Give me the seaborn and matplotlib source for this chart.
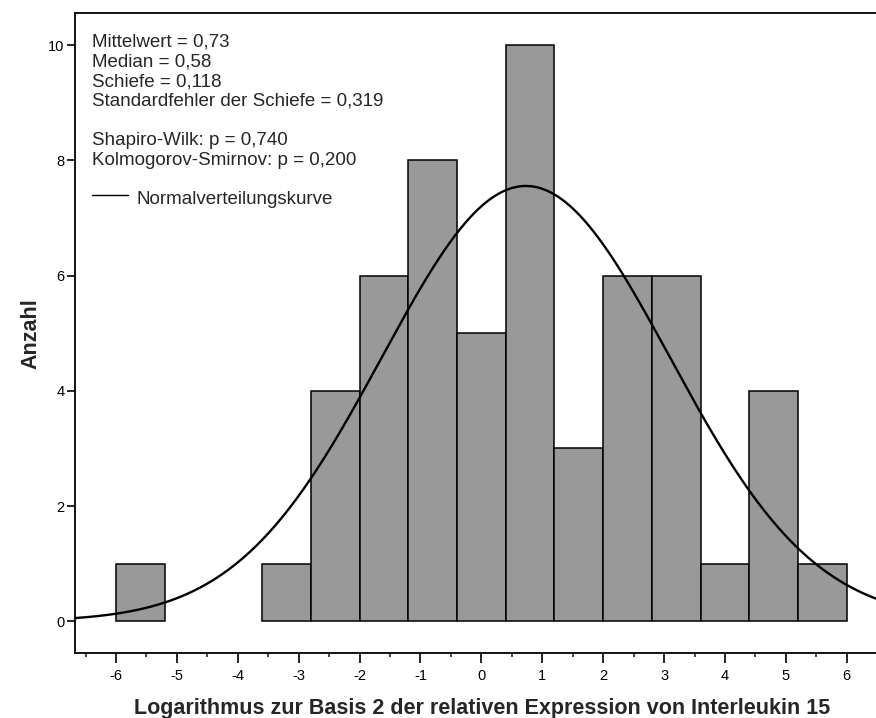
import numpy as np
import pandas as pd
import matplotlib
matplotlib.use("Agg")
import matplotlib.pyplot as plt
import seaborn as sns

# Histogram bins (width 0.8) of log2 relative IL-15 expression and their counts
bin_edges = [-6.0, -5.2, -4.4, -3.6, -2.8, -2.0, -1.2, -0.4, 0.4, 1.2, 2.0, 2.8, 3.6, 4.4, 5.2, 6.0]
counts = [1, 0, 0, 1, 4, 6, 8, 5, 10, 3, 6, 6, 1, 4, 1]

# Descriptive statistics
mean_value = 0.73
sd_value = 2.365
stats_lines = [
    "Mittelwert = 0,73",
    "Median = 0,58",
    "Schiefe = 0,118",
    "Standardfehler der Schiefe = 0,319",
    "",
    "Shapiro-Wilk: p = 0,740",
    "Kolmogorov-Smirnov: p = 0,200",
]
curve_label = "Normalverteilungskurve"
x_label = "Logarithmus zur Basis 2 der relativen Expression von Interleukin 15"
y_label = "Anzahl"
x_ticks = [-6, -5, -4, -3, -2, -1, 0, 1, 2, 3, 4, 5, 6]
y_ticks = [0, 2, 4, 6, 8, 10]

sns.set_style("ticks")
plt.rcParams["font.family"] = ["Liberation Sans", "DejaVu Sans"]

W, H = 876, 718
fig = plt.figure(figsize=(W / 100, H / 100), dpi=100)

# axes geometry in pixels
x_lo, x_hi = -6.673, 6.62
y_lo, y_hi = -0.55, 10.56
left_px, top_px, bottom_px = 75, 13, 653
px_per_x = 60.9
width_px = (x_hi - x_lo) * px_per_x
ax = fig.add_axes([left_px / W, 1 - bottom_px / H, width_px / W, (bottom_px - top_px) / H])

centers = [(a + b) / 2 for a, b in zip(bin_edges[:-1], bin_edges[1:])]
df = pd.DataFrame({"wert": centers, "anzahl": counts})
sns.histplot(data=df, x="wert", weights="anzahl", bins=bin_edges, color="#999999",
             edgecolor="black", linewidth=1.1, alpha=1.0, ax=ax, zorder=2)
for p in ax.patches:
    if p.get_height() == 0:
        p.set_visible(False)

# fitted normal curve scaled to counts
n_total = sum(counts)
bw = bin_edges[1] - bin_edges[0]
xs = np.linspace(x_lo, x_hi, 600)
ys = n_total * bw / (sd_value * np.sqrt(2 * np.pi)) * np.exp(-0.5 * ((xs - mean_value) / sd_value) ** 2)
sns.lineplot(x=xs, y=ys, color="black", linewidth=1.7, ax=ax, zorder=3)

ax.set_xlim(x_lo, x_hi)
ax.set_ylim(y_lo, y_hi)
ax.set_xticks(x_ticks)
ax.set_xticklabels([str(t) for t in x_ticks])
ax.set_xticks(np.arange(-6.5, 6.6, 1.0), minor=True)
ax.set_yticks(y_ticks)
ax.set_yticklabels([str(t) for t in y_ticks])

for side in ["left", "top", "bottom"]:
    ax.spines[side].set_linewidth(1.3)
    ax.spines[side].set_color("black")
ax.spines["right"].set_visible(False)

ax.tick_params(axis="x", which="major", length=7.2, width=1.2, pad=4.3, labelsize=10.5, colors="black")
ax.tick_params(axis="x", which="minor", length=2.9, width=1.2)
ax.tick_params(axis="y", which="major", length=6, width=1.2, pad=1.5, labelsize=10.5, colors="black")

ax.set_xlabel("")
ax.set_ylabel("")
fig.text(482 / W, 1 - 714 / H, x_label, ha="center", va="baseline", fontsize=15.5, fontweight="bold")
fig.text(31 / W, 1 - 334 / H, y_label, ha="center", va="center", rotation=90, fontsize=15.5, fontweight="bold")

# statistics block
line_px = 19.7
base0 = 46.7
for i, line in enumerate(stats_lines):
    if line:
        fig.text(92 / W, 1 - (base0 + i * line_px) / H, line, ha="left", va="baseline", fontsize=13.5)

# curve legend entry
ly = 195
fig.add_artist(plt.Line2D([92 / W, 127.5 / W], [1 - ly / H, 1 - ly / H], color="black", linewidth=1.0))
fig.text(136.5 / W, 1 - (base0 + 8 * line_px) / H, curve_label, ha="left", va="baseline", fontsize=13.5)

fig.savefig("out.png", dpi=100)
